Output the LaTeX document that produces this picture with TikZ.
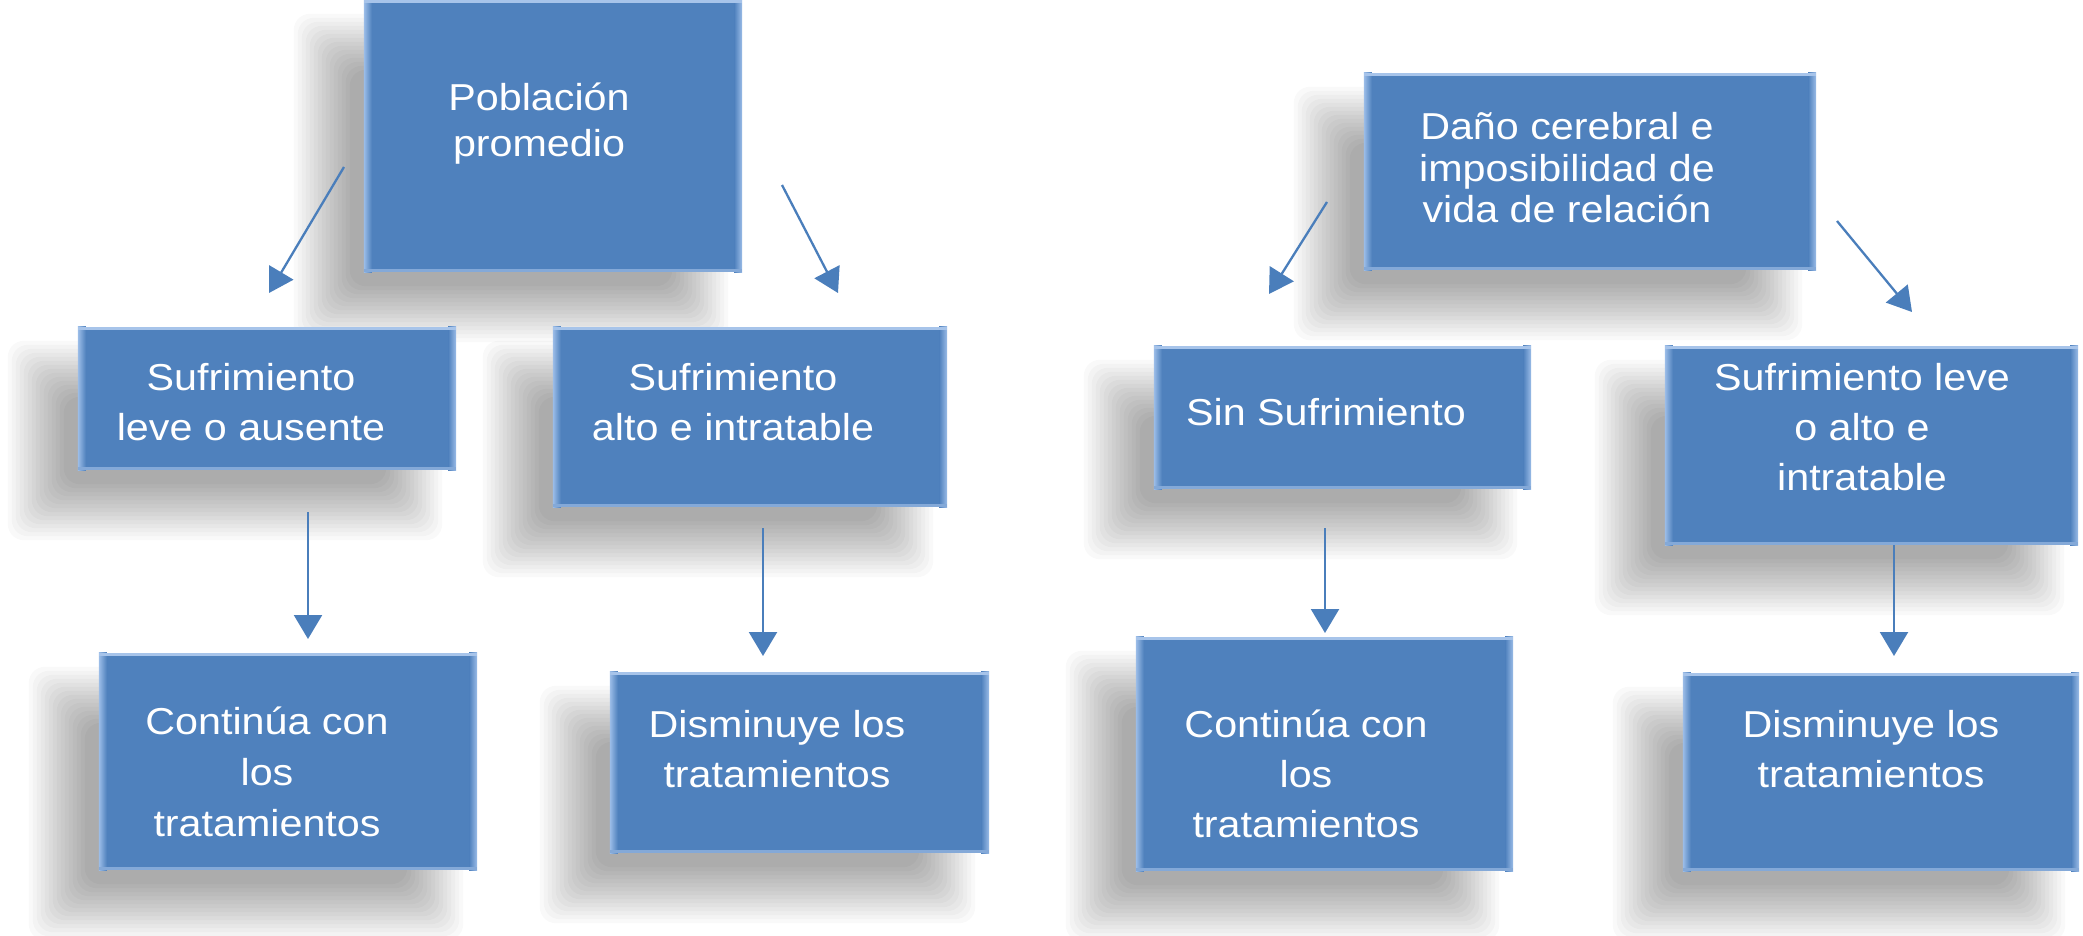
\documentclass[tikz,border=0pt]{standalone}
\usepackage{fontspec}
\setmainfont{Liberation Sans}[FakeStretch=1.1]
\usetikzlibrary{arrows.meta,calc}
\definecolor{boxblue}{HTML}{4F81BD}
\definecolor{bevlight}{HTML}{9CBDE8}
\definecolor{bevtop}{HTML}{A7C4EA}
\definecolor{arrowblue}{HTML}{4A7EBB}
\pgfdeclarelayer{bg}
\pgfsetlayers{bg,main}
\newcommand{\mylines}[1]{\begin{tabular}[t]{@{}c@{}}#1\end{tabular}}
\newcommand{\bevelbox}[1]{%
  \shade[left color=bevlight,right color=boxblue] (#1.north west) rectangle ([xshift=8pt]#1.south west);
  \shade[left color=boxblue,right color=bevlight] ([xshift=-8pt]#1.north east) rectangle (#1.south east);
  \fill[bevtop] (#1.north west) rectangle ([yshift=-3pt]#1.north east);
  \fill[bevtop!60!boxblue] ([yshift=3pt]#1.south west) rectangle (#1.south east);
  \begin{pgfonlayer}{bg}
    \foreach \d [evaluate=\d as \a using -42+\d, evaluate=\d as \b using -42-\d] in {-28,-24,...,28} {
      \fill[black,opacity=0.025,rounded corners=16pt] ([shift={(\a pt,\b pt)}]#1.north west) rectangle ([shift={(\b pt,\a pt)}]#1.south east);
    }
  \end{pgfonlayer}
}
\tikzset{
  box/.style={fill=boxblue, draw=none, inner sep=0pt},
  txt/.style={anchor=base, text=white, inner sep=0pt},
  conn/.style={draw=arrowblue, line width=2.3pt, -{Triangle[length=24pt,width=28pt]}},
}
\begin{document}
\begin{tikzpicture}[x=1pt,y=-1pt]
\useasboundingbox (0,0) rectangle (2083,936);
\begin{pgfonlayer}{bg}
  \fill[white] (0,0) rectangle (2083,936);
\end{pgfonlayer}

% boxes
\node[box, minimum width=378pt, minimum height=272pt] (b1) at (553,136) {};
\node[box, minimum width=378pt, minimum height=143pt] (b2) at (267,398.5) {};
\node[box, minimum width=394pt, minimum height=180pt] (b3) at (750,417) {};
\node[box, minimum width=378pt, minimum height=217pt] (b4) at (288,761.5) {};
\node[box, minimum width=379pt, minimum height=181pt] (b5) at (799.5,762.5) {};
\node[box, minimum width=452pt, minimum height=197pt] (b6) at (1590,171.5) {};
\node[box, minimum width=377pt, minimum height=143pt] (b7) at (1342.5,417.5) {};
\node[box, minimum width=413pt, minimum height=199pt] (b8) at (1871.5,445.5) {};
\node[box, minimum width=377pt, minimum height=234pt] (b9) at (1324.5,754) {};
\node[box, minimum width=396pt, minimum height=198pt] (b10) at (1881,772) {};

\bevelbox{b1}\bevelbox{b2}\bevelbox{b3}\bevelbox{b4}\bevelbox{b5}
\bevelbox{b6}\bevelbox{b7}\bevelbox{b8}\bevelbox{b9}\bevelbox{b10}

% texts
\node[txt, font=\fontsize{37.5}{46}\selectfont] (t1) at (539,111) {\mylines{Población\\promedio}};
\node[txt, font=\fontsize{37.5}{50}\selectfont] (t2) at (251,390) {\mylines{Sufrimiento\\leve o ausente}};
\node[txt, font=\fontsize{37.5}{50}\selectfont] (t3) at (733,390) {\mylines{Sufrimiento\\alto e intratable}};
\node[txt, font=\fontsize{37.5}{51}\selectfont] (t4) at (267,734) {\mylines{Continúa con\\los\\tratamientos}};
\node[txt, font=\fontsize{37.5}{50}\selectfont] (t5) at (777,737) {\mylines{Disminuye los\\tratamientos}};
\node[txt, font=\fontsize{37.5}{41.5}\selectfont] (t6) at (1567,140) {\mylines{Daño cerebral e\\imposibilidad de\\vida de relación}};
\node[txt, font=\fontsize{37.5}{46}\selectfont] (t7) at (1326,425) {\mylines{Sin Sufrimiento}};
\node[txt, font=\fontsize{37.5}{50}\selectfont] (t8) at (1862,390) {\mylines{Sufrimiento leve\\o alto e\\intratable}};
\node[txt, font=\fontsize{37.5}{50}\selectfont] (t9) at (1306,737) {\mylines{Continúa con\\los\\tratamientos}};
\node[txt, font=\fontsize{37.5}{50}\selectfont] (t10) at (1871,737) {\mylines{Disminuye los\\tratamientos}};

% connector end points
\coordinate (a1s) at (344,167);  \coordinate (a1e) at (269,293);
\coordinate (a2s) at (782,185);  \coordinate (a2e) at (838,293);
\coordinate (a3s) at (1327,202); \coordinate (a3e) at (1269,294);
\coordinate (a4s) at (1837,221); \coordinate (a4e) at (1912,312);
\coordinate (a5s) at (308,512);  \coordinate (a5e) at (308,639);
\coordinate (a6s) at (763,528);  \coordinate (a6e) at (763,656);
\coordinate (a7s) at (1325,528); \coordinate (a7e) at (1325,633);
\coordinate (a8s) at (1894,545); \coordinate (a8e) at (1894,656);

\draw[conn] (a1s) -- (a1e);
\draw[conn] (a2s) -- (a2e);
\draw[conn] (a3s) -- (a3e);
\draw[conn] (a4s) -- (a4e);
\draw[conn] (a5s) -- (a5e);
\draw[conn] (a6s) -- (a6e);
\draw[conn] (a7s) -- (a7e);
\draw[conn] (a8s) -- (a8e);
\end{tikzpicture}
\end{document}
